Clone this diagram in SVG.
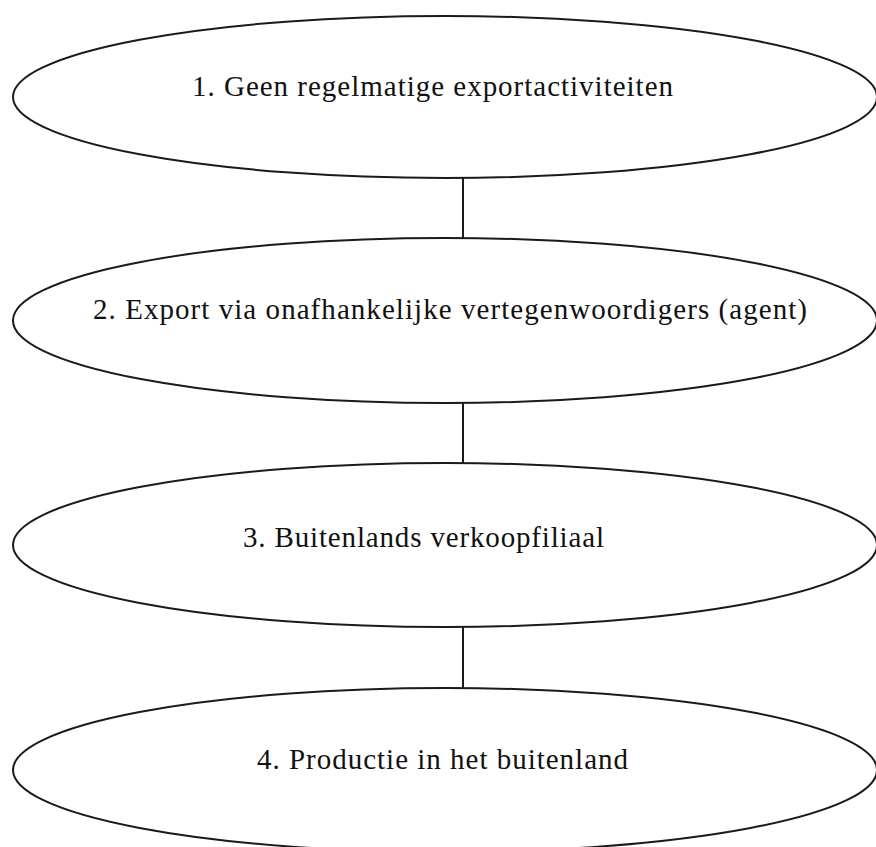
<svg xmlns="http://www.w3.org/2000/svg" width="876" height="847" viewBox="0 0 876 847">
<style>
.n{fill:#fff;stroke:#1a1a1a;stroke-width:2}
.t{font-family:"Liberation Serif","Times New Roman",serif;font-size:29px;fill:#111}
.c{stroke:#1a1a1a;stroke-width:2}
</style>
<rect width="876" height="847" fill="#fff"/>
<g id="connectors">
<line class="c" x1="463" y1="178" x2="463" y2="238"/>
<line class="c" x1="463" y1="403" x2="463" y2="463"/>
<line class="c" x1="463" y1="627" x2="463" y2="688"/>
</g>
<g id="node1">
<ellipse class="n" cx="445" cy="97" rx="432" ry="81"/>
<text class="t" x="192" y="96" textLength="481" lengthAdjust="spacing">1. Geen regelmatige exportactiviteiten</text>
</g>
<g id="node2">
<ellipse class="n" cx="445" cy="320.5" rx="432" ry="82.5"/>
<text class="t" x="93" y="319" textLength="714" lengthAdjust="spacing">2. Export via onafhankelijke vertegenwoordigers (agent)</text>
</g>
<g id="node3">
<ellipse class="n" cx="445" cy="545" rx="432" ry="82"/>
<text class="t" x="243" y="547" textLength="361" lengthAdjust="spacing">3. Buitenlands verkoopfiliaal</text>
</g>
<g id="node4">
<ellipse class="n" cx="445" cy="770" rx="432" ry="82"/>
<text class="t" x="257" y="769" textLength="371" lengthAdjust="spacing">4. Productie in het buitenland</text>
</g>
</svg>
